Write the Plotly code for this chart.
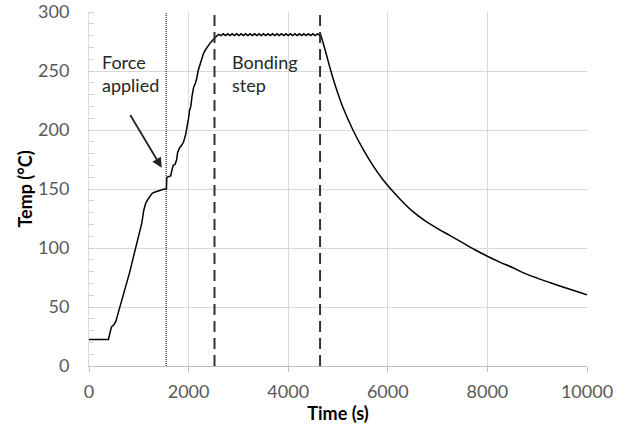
import plotly.graph_objects as go

# Thermal profile of the bonding run: time (s) and temperature (°C)
time_s = [
    0, 390, 420, 450, 500, 540, 580, 620, 660, 700, 740, 780, 820, 860, 900,
    940, 980, 1020, 1060, 1100, 1140, 1180, 1220, 1260, 1300, 1360, 1420,
    1480, 1540, 1555, 1562, 1600, 1640, 1660, 1690, 1730, 1760, 1780, 1820,
    1860, 1900, 1940, 1970, 2000, 2020, 2045, 2070, 2100, 2130, 2160, 2190,
    2220, 2260, 2300, 2340, 2380, 2420, 2460, 2500, 2530,
    2560, 2605, 2650, 2695, 2740, 2785, 2830, 2875, 2920, 2965, 3010, 3055,
    3100, 3145, 3190, 3235, 3280, 3325, 3370, 3415, 3460, 3505, 3550, 3595,
    3640, 3685, 3730, 3775, 3820, 3865, 3910, 3955, 4000, 4045, 4090, 4135,
    4180, 4225, 4270, 4315, 4360, 4405, 4450, 4495, 4540, 4585, 4620, 4640,
    4700, 4760, 4850, 4950, 5100, 5300, 5500, 5700, 5900, 6100, 6300, 6500,
    6750, 7000, 7250, 7500, 7750, 8000, 8250, 8500, 8750, 9000, 9250, 9500,
    9750, 10000,
]
temp_c = [
    22.5, 22.5, 28, 33, 35, 38, 44, 50, 55, 61, 66, 73, 80, 87, 94,
    101, 108, 115, 121, 132, 138, 141, 144, 146, 147, 148, 148.5,
    149.5, 150, 150, 160, 160.5, 161, 165, 170, 171, 175, 181, 185,
    187, 190, 196, 202, 210, 217, 220, 229, 236, 239, 243, 250,
    254, 259, 265, 268, 271, 273, 275, 277, 278.5,
    279.5, 281, 280, 281.5, 280, 281.5, 280, 281.5, 280, 281.5, 280, 281.5,
    280, 281.5, 280, 281.5, 280, 281.5, 280, 281.5, 280, 281.5, 280, 281.5,
    280, 281.5, 280, 281.5, 280, 281.5, 280, 281.5, 280, 281.5, 280, 281.5,
    280, 281.5, 280, 281.5, 280, 281.5, 280, 281.5, 280, 281.5, 280.5, 282.5,
    274, 265, 251, 237, 219, 200, 184, 170, 158, 148, 139, 131,
    123, 116.5, 110.5, 104.5, 98.5, 93, 88, 83.5, 78.5, 74.5, 70.8, 67.2,
    63.8, 60.3,
]

# Event markers (s)
force_time = 1550
bonding_start = 2520
bonding_end = 4640

x_ticks = [0, 2000, 4000, 6000, 8000, 10000]
y_ticks = [0, 50, 100, 150, 200, 250, 300]

FONT = "Lato"
GRID = "#d9d9d9"
TICK_TXT = "#595959"
LINE = dict(color="black", width=1.5)

# heating + hold drawn point to point; free cooling drawn as a smooth curve
split = time_s.index(bonding_end)
fig = go.Figure()
fig.add_trace(go.Scatter(
    x=time_s[:split + 1], y=temp_c[:split + 1], mode="lines",
    line=LINE, showlegend=False, hoverinfo="skip",
))
fig.add_trace(go.Scatter(
    x=time_s[split:], y=temp_c[split:], mode="lines",
    line=dict(LINE, shape="spline", smoothing=1.0),
    showlegend=False, hoverinfo="skip",
))

# vertical event lines
fig.add_shape(type="line", xref="x", yref="y", x0=force_time, x1=force_time,
              y0=0, y1=300, line=dict(color="#222222", width=1.2, dash="1px,1px"))
for t in (bonding_start, bonding_end):
    fig.add_shape(type="line", xref="x", yref="y", x0=t, x1=t, y0=0, y1=300,
                  line=dict(color="#333333", width=2, dash="11px,6px"))

# labels
fig.add_annotation(x=220, y=269, xref="x", yref="y", text="Force<br>applied",
                   showarrow=False, xanchor="left", yanchor="top", align="left",
                   font=dict(family=FONT, size=18, color="#262626"))
fig.add_annotation(x=2830, y=269, xref="x", yref="y", text="Bonding<br>step",
                   showarrow=False, xanchor="left", yanchor="top", align="left",
                   font=dict(family=FONT, size=18, color="#262626"))

# arrow pointing at the force application
fig.add_annotation(x=1460, y=168, ax=810, ay=214, xref="x", yref="y",
                   axref="x", ayref="y", text="", showarrow=True,
                   arrowhead=2, arrowsize=1.1, arrowwidth=1.8, arrowcolor="#222222",
                   standoff=0)

fig.update_xaxes(
    range=[0, 10000], tickvals=x_ticks, ticktext=[str(v) for v in x_ticks],
    showgrid=True, gridcolor=GRID, gridwidth=1,
    showline=True, linecolor="#bfbfbf", linewidth=1,
    ticks="outside", ticklen=5, tickcolor="#bfbfbf", ticklabelstandoff=4,
    tickfont=dict(family=FONT, size=18, color=TICK_TXT),
    title=dict(text="<b>Time (s)</b>", font=dict(family=FONT, size=18, color="black"),
               standoff=4),
    zeroline=False, automargin=False,
)
fig.update_yaxes(
    range=[0, 300], tickvals=y_ticks, ticktext=[str(v) for v in y_ticks],
    showgrid=True, gridcolor=GRID, gridwidth=1,
    showline=True, linecolor="#d9d9d9", linewidth=1,
    ticks="", ticklabelstandoff=15,
    tickfont=dict(family=FONT, size=18, color=TICK_TXT),
    minor=dict(dtick=10, ticks="inside", ticklen=5, tickcolor="#d0d0d0", showgrid=False),
    title=dict(text="<b>Temp (°C)</b>", font=dict(family=FONT, size=18, color="black"),
               standoff=0),
    zeroline=False, automargin=False,
)

fig.update_layout(
    width=643, height=434,
    margin=dict(l=89, r=56, t=12, b=68),
    paper_bgcolor="white", plot_bgcolor="white",
    showlegend=False,
)

fig.write_html("out.html")
